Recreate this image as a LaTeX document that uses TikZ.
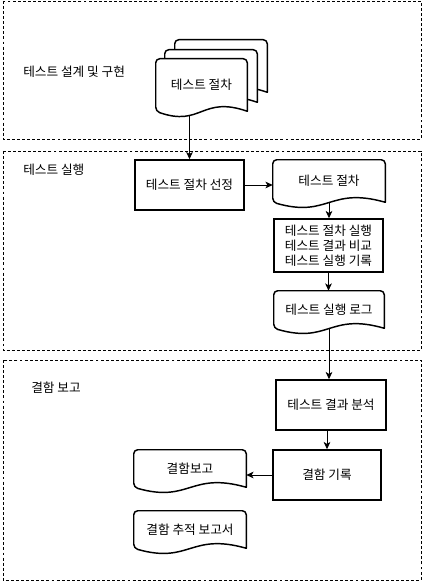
\documentclass[tikz,border=0pt]{standalone}
\usepackage{fontspec}
\setmainfont{Noto Sans CJK KR}
\usetikzlibrary{arrows.meta,backgrounds,calc}

% document outline (rounded top, wavy bottom) round a named node
\newcommand{\docoutline}[1]{%
  \begin{scope}[on background layer]
    \draw[docline] (#1.south east) -- (#1.north east) -- (#1.north west) -- (#1.south west)
      [sharp corners] .. controls ($(#1.south)+(0,16)$) and ($(#1.south)+(0,-16)$) .. cycle;
  \end{scope}}

\begin{document}
\begin{tikzpicture}[x=0.75pt,y=-0.75pt]
\tikzset{
  zone/.style={draw=black,line width=0.6pt,dash pattern=on 2.2pt off 1.6pt},
  zonelabel/.style={anchor=west,inner sep=0pt,font=\fontsize{9.5}{11}\selectfont},
  procbox/.style={rectangle,draw=black,line width=1.1pt,inner sep=0pt,align=center,font=\fontsize{9.5}{11.25}\selectfont},
  docnode/.style={rectangle,inner sep=0pt,align=center,font=\fontsize{9.5}{11.25}\selectfont},
  docline/.style={draw=black,fill=white,line width=1.1pt,rounded corners=3pt,line join=round},
  flow/.style={draw=black,line width=0.75pt,-{Stealth[length=5.5pt,width=5pt,inset=1.5pt]}},
  boxsize/.style 2 args={minimum width=#1*0.75pt,minimum height=#2*0.75pt}
}
\useasboundingbox (0,0) rectangle (424,581);
% zones
\draw[zone] (3,1) rectangle (421,139);
\draw[zone] (3,151) rectangle (421,350);
\draw[zone] (3,360) rectangle (421,580);
\node[zonelabel] (l_design) at (23,72) {테스트 설계 및 구현};
\node[zonelabel] (l_exec) at (23,170) {테스트 실행};
\node[zonelabel] (l_report) at (31,388) {결함 보고};
% test design
\node[docnode,boxsize={92}{52}] (n_stkback) at (221,66) {};
\docoutline{n_stkback}
\node[docnode,boxsize={92}{52}] (n_stkmid) at (211,76) {};
\docoutline{n_stkmid}
\node[docnode,boxsize={91}{52}] (n_stk) at (201.5,85) {테스트 절차};
\docoutline{n_stk}
% test execution
\node[procbox,boxsize={109}{50}] (n_sel) at (189.5,185) {테스트 절차 선정};
\node[docnode,boxsize={112}{42}] (n_proc) at (329,181) {테스트 절차};
\docoutline{n_proc}
\node[procbox,boxsize={109}{53}] (n_exec) at (328.5,245.5) {테스트 절차 실행\\테스트 결과 비교\\테스트 실행 기록};
\node[docnode,boxsize={110}{37}] (n_log) at (329,309.5) {테스트 실행 로그};
\docoutline{n_log}
% defect report
\node[procbox,boxsize={110}{50}] (n_ana) at (331,405) {테스트 결과 분석};
\node[procbox,boxsize={108}{50}] (n_rec) at (327,475) {결함 기록};
\node[docnode,boxsize={112}{37}] (n_rep) at (190,468.5) {결함보고};
\docoutline{n_rep}
\node[docnode,boxsize={112}{37}] (n_trace) at (190,529.5) {결함 추적 보고서};
\docoutline{n_trace}
% connectors
\draw[flow] ($(n_sel.north |- n_stk.south)+(0,3.5)$) -- (n_sel.north);
\draw[flow] (n_sel.east) -- (n_sel.east -| n_proc.west);
\draw[flow] (n_proc.south) -- (n_proc.south |- n_exec.north);
\draw[flow] (n_exec.south) -- (n_exec.south |- n_log.north);
\draw[flow] (n_log.south) -- (n_log.south |- n_ana.north);
\draw[flow] (n_rec.north |- n_ana.south) -- (n_rec.north);
\draw[flow] (n_rec.west) -- (n_rec.west -| n_rep.east);
\end{tikzpicture}
\end{document}
